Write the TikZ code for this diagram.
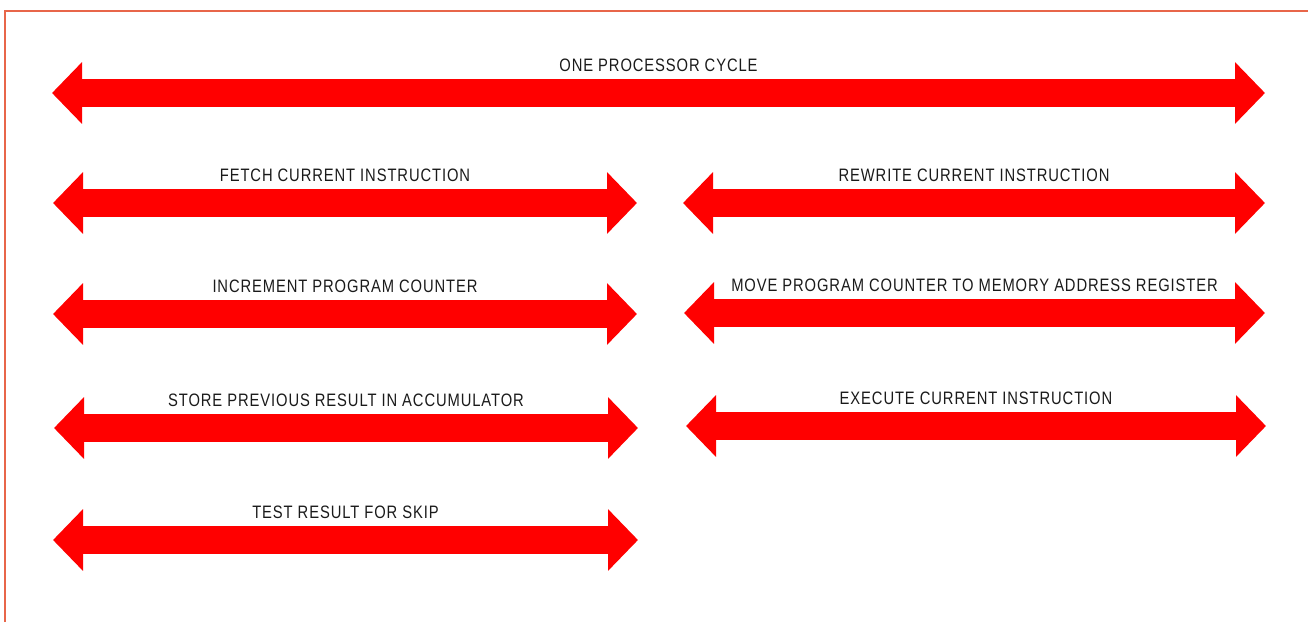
\documentclass[tikz,border=0pt]{standalone}
\usepackage{fontspec}
\newfontfamily\cyclefont[FakeStretch=0.82, LetterSpace=5]{Liberation Sans}
\usepackage{tikz}
\usetikzlibrary{arrows.meta}
\definecolor{arrowred}{HTML}{FF0000}
\definecolor{framered}{HTML}{E8664A}
\definecolor{inkgray}{HTML}{1A1A1A}

\begin{document}
\begin{tikzpicture}[
    x=0.5pt, y=-0.5pt,
    phase/.style={{Triangle[length=15pt, width=30pt]}-{Triangle[length=15pt, width=30pt]}, line width=14pt, draw=arrowred},
    phaselabel/.style={midway, yshift=14pt, font=\cyclefont\fontsize{9}{11}\selectfont, text=inkgray, inner sep=0pt},
    frame/.style={draw=framered, line width=1pt},
]
    \useasboundingbox (0,0) rectangle (1308,622);
    \draw[frame] (5,622) -- (5,11) -- (1308,11);

    % whole cycle
    \coordinate (cycle-l) at (52,93);
    \coordinate (cycle-r) at (1265,93);
    \draw[phase] (cycle-l) -- node[phaselabel] {ONE PROCESSOR CYCLE} (cycle-r);

    % left column
    \coordinate (fetch-l) at (53,203);
    \coordinate (fetch-r) at (637,203);
    \coordinate (incr-l) at (53,314);
    \coordinate (incr-r) at (637,314);
    \coordinate (store-l) at (54,428);
    \coordinate (store-r) at (638,428);
    \coordinate (test-l) at (53,540);
    \coordinate (test-r) at (638,540);
    \draw[phase] (fetch-l) -- node[phaselabel] {FETCH CURRENT INSTRUCTION} (fetch-r);
    \draw[phase] (incr-l) -- node[phaselabel] {INCREMENT PROGRAM COUNTER} (incr-r);
    \draw[phase] (store-l) -- node[phaselabel] {STORE PREVIOUS RESULT IN ACCUMULATOR} (store-r);
    \draw[phase] (test-l) -- node[phaselabel] {TEST RESULT FOR SKIP} (test-r);

    % right column
    \coordinate (rewrite-l) at (683,203);
    \coordinate (rewrite-r) at (1265,203);
    \coordinate (move-l) at (684,313);
    \coordinate (move-r) at (1265,313);
    \coordinate (exec-l) at (686,426);
    \coordinate (exec-r) at (1266,426);
    \draw[phase] (rewrite-l) -- node[phaselabel] {REWRITE CURRENT INSTRUCTION} (rewrite-r);
    \draw[phase] (move-l) -- node[phaselabel] {MOVE PROGRAM COUNTER TO MEMORY ADDRESS REGISTER} (move-r);
    \draw[phase] (exec-l) -- node[phaselabel] {EXECUTE CURRENT INSTRUCTION} (exec-r);
\end{tikzpicture}
\end{document}
